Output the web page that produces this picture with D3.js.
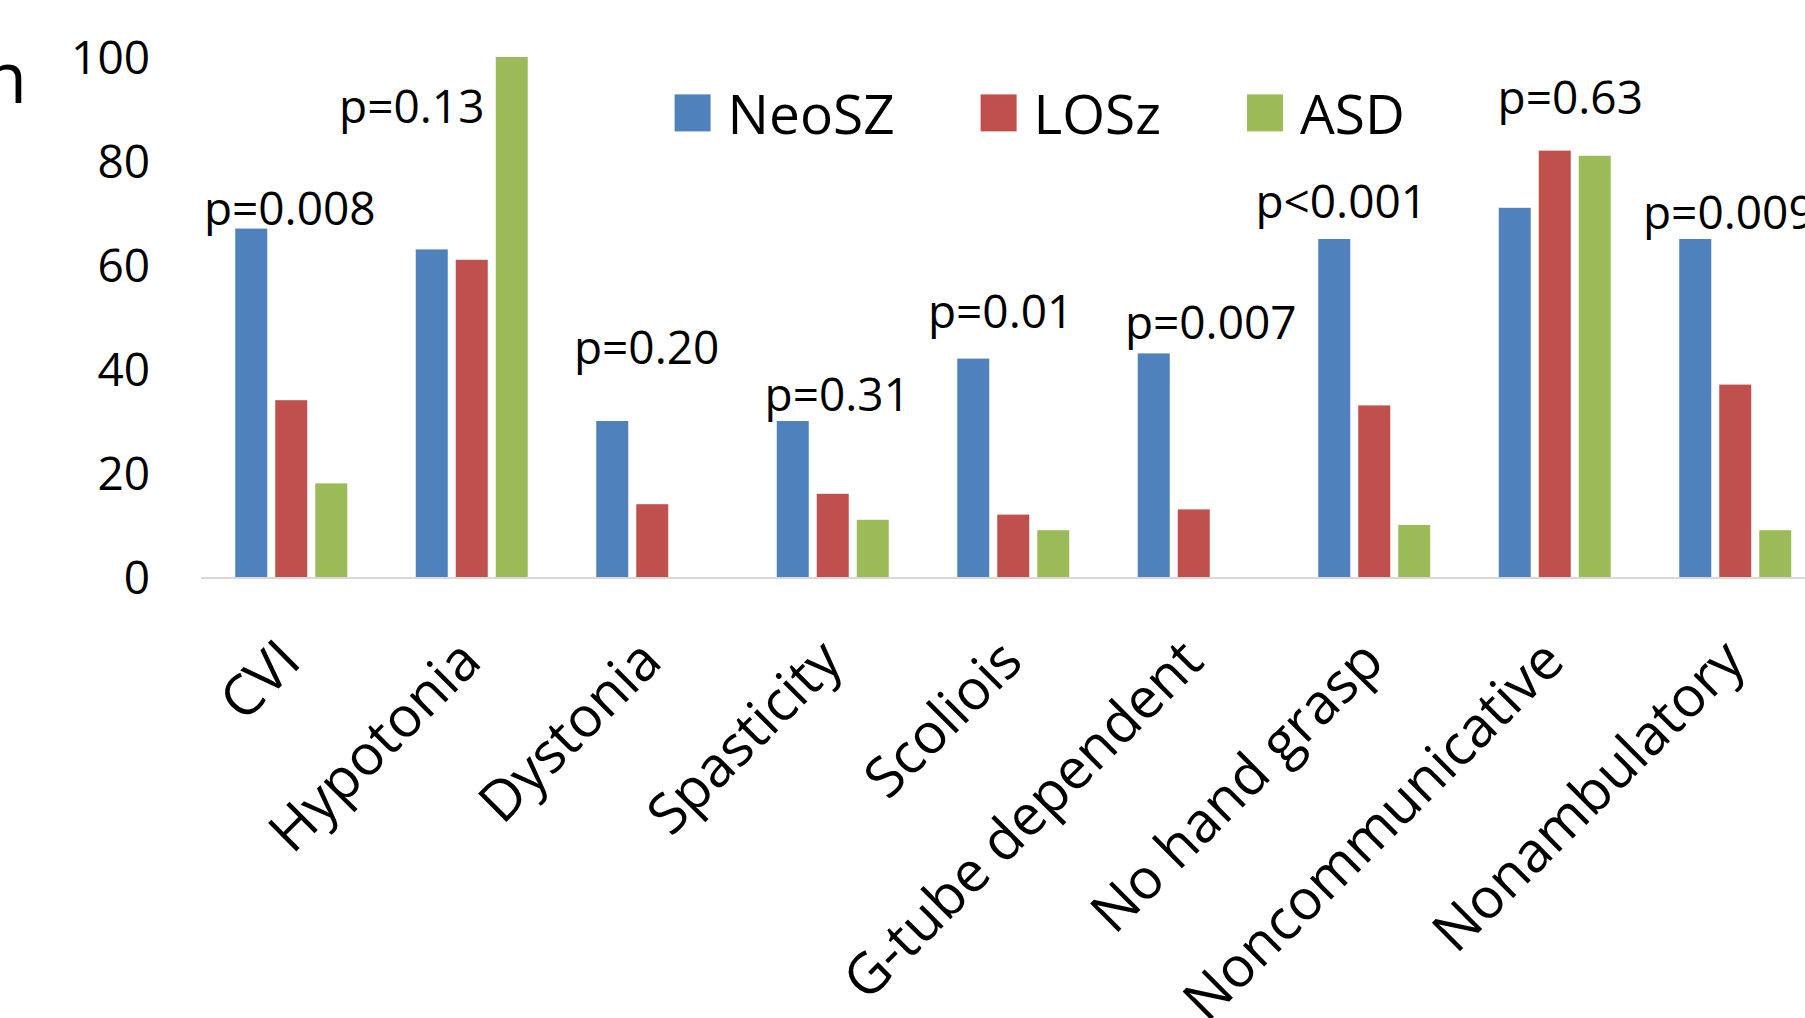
<!DOCTYPE html>
<html><head><meta charset="utf-8">
<script src="https://cdn.jsdelivr.net/npm/d3@7"></script>
<style>
html,body{margin:0;padding:0;background:#fff;overflow:hidden;}
text{font-family:"Open Sans",sans-serif;fill:#000;}
</style></head>
<body><svg id="c" width="1805" height="1018"></svg>
<script>
// ---- data ----
const categories = ["CVI","Hypotonia","Dystonia","Spasticity","Scoliois","G-tube dependent","No hand grasp","Noncommunicative","Nonambulatory"];
const seriesNames = ["NeoSZ","LOSz","ASD"];
const neoSZ = [67,63,30,30,42,43,65,71,65];
const losz  = [34,61,14,16,12,13,33,82,37];
const asd   = [18,100,null,11,9,null,10,81,9];
const pLabels = ["p=0.008","p=0.13","p=0.20","p=0.31","p=0.01","p=0.007","p<0.001","p=0.63","p=0.009"];
const yTicks = [0,20,40,60,80,100];

// ---- layout (not data) ----
const colors = ["#4F81BD","#C0504D","#9BBB59"];
const pLabelLevel = [70.7,90.4,44.1,35,51,48.8,72.2,92.1,70];
const pLabelShift = [-1.5,-60,-5.6,4.5,-12.6,17,-33,15.5,-6.4];

const svg = d3.select("#c");
const left = 201, step = 180.5;
const x0 = d3.scaleBand().domain(categories)
  .range([left, left + step*categories.length])
  .paddingInner(0.3795).paddingOuter(0.3795/2);
const x1 = d3.scaleBand().domain(seriesNames).range([0, x0.bandwidth()]).paddingInner(0.2).paddingOuter(0);
const y = d3.scaleLinear().domain([0,100]).range([577,57]);

const seriesVals = [neoSZ, losz, asd];

// bars
const g = svg.append("g");
categories.forEach((c,i)=>{
  seriesNames.forEach((s,j)=>{
    const v = seriesVals[j][i];
    if (v == null) return;
    g.append("rect")
      .attr("x", x0(c) + x1(s))
      .attr("y", y(v))
      .attr("width", x1.bandwidth())
      .attr("height", y(0) - y(v))
      .attr("fill", colors[j]);
  });
});

// x axis line
svg.append("line").attr("x1", left).attr("x2", left + step*categories.length)
  .attr("y1", y(0)+1).attr("y2", y(0)+1).attr("stroke","#D9D9D9").attr("stroke-width",2);

// y axis tick labels
const yAxis = d3.axisLeft(y).tickValues(yTicks).tickSize(0).tickPadding(0);
const ya = svg.append("g").attr("transform","translate(150,0)").call(yAxis);
ya.select(".domain").remove();
ya.selectAll("text").attr("font-size",46).attr("font-family","Open Sans").attr("fill","#000")
  .attr("dy", null).attr("y", 16).attr("text-anchor","end");

// category labels
categories.forEach((c)=>{
  const cx = x0(c) + x0.bandwidth()/2;
  svg.append("text")
    .attr("transform", `translate(${cx+12},664) rotate(-45)`)
    .attr("text-anchor","end")
    .attr("font-size",56)
    .text(c);
});

// p labels
categories.forEach((c,i)=>{
  const cx = x0(c) + x0.bandwidth()/2 + pLabelShift[i];
  svg.append("text").attr("x", cx).attr("y", y(pLabelLevel[i]) + 16)
    .attr("text-anchor","middle").attr("font-size",46).text(pLabels[i]);
});

// legend
let lx = 674.6;
seriesNames.forEach((s,j)=>{
  svg.append("rect").attr("x", lx).attr("y", 94.4).attr("width",36).attr("height",37).attr("fill",colors[j]);
  const t = svg.append("text").attr("x", lx+53).attr("y",133.5).attr("font-size",55).text(s);
  lx = lx + 53 + t.node().getComputedTextLength() + 86;
});

// cut-off title fragment at left edge
svg.append("text").attr("x",27).attr("y",103).attr("text-anchor","end").attr("font-size",71).text("n");
</script></body></html>
